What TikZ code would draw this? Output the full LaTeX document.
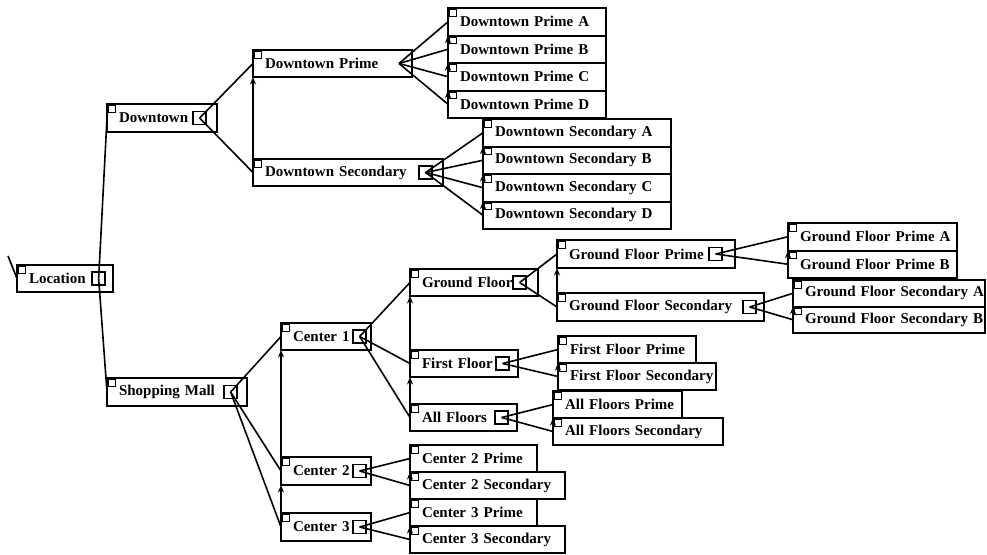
\documentclass[tikz,border=0pt]{standalone}
\usepackage{fontspec}
\setmainfont{Liberation Serif}
\usetikzlibrary{arrows.meta, positioning, calc}
\hyphenpenalty=10000
\exhyphenpenalty=10000
\tikzset{
	tbox/.style={rectangle, draw=black, line width=2pt, fill=white, anchor=north west, outer sep=0pt,
		inner xsep=12pt, inner ysep=1pt, align=left, font=\bfseries\fontsize{15}{17}\selectfont,
		path picture={
			\draw[line width=0.9pt] ([shift={(1.5pt,-1.5pt)}]path picture bounding box.north west) rectangle ++(6.5pt,-6.5pt);
			\fill ([shift={(4.7pt,-4.7pt)}]path picture bounding box.north west) circle (1.1pt);}},
	fold/.style={rectangle, draw=black, line width=1.7pt, minimum width=13pt, minimum height=13pt, inner sep=0pt},
	link/.style={line width=1.6pt},
	sib/.style={line width=1.6pt, -{Stealth[length=7.5pt, width=6pt]}},
}
\begin{document}
\begin{tikzpicture}[x=1pt, y=-1pt]
	\useasboundingbox (0,0) rectangle (987,554);
	% first levels
	\node[tbox, text width=72pt, minimum width=96, minimum height=27] (loc) at (17,265) {Location};
	\node[tbox, text width=86pt, minimum width=110, minimum height=28] (dt) at (107,104) {Downtown};
	\node[tbox, text width=116pt, minimum width=140, minimum height=28] (sm) at (107,378) {Shopping~Mall};
	\node[tbox, text width=135pt, minimum width=159, minimum height=27] (dtp) at (253,50) {Downtown~Prime};
	\node[tbox, text width=166pt, minimum width=190, minimum height=27] (dts) at (253,159) {Downtown~Secondary};
	% downtown leaves
	\node[tbox, text width=134pt, minimum width=158, minimum height=27.5] (dtpa) at (448,8) {Downtown~Prime~A};
	\node[tbox, text width=134pt, minimum width=158, minimum height=27.5] (dtpb) at (448,35.5) {Downtown~Prime~B};
	\node[tbox, text width=134pt, minimum width=158, minimum height=27.5] (dtpc) at (448,63) {Downtown~Prime~C};
	\node[tbox, text width=134pt, minimum width=158, minimum height=27.5] (dtpd) at (448,90.5) {Downtown~Prime~D};
	\node[tbox, text width=164pt, minimum width=188, minimum height=27.5] (dtsa) at (483,119) {Downtown~Secondary~A};
	\node[tbox, text width=164pt, minimum width=188, minimum height=27.5] (dtsb) at (483,146.5) {Downtown~Secondary~B};
	\node[tbox, text width=164pt, minimum width=188, minimum height=27.5] (dtsc) at (483,174) {Downtown~Secondary~C};
	\node[tbox, text width=164pt, minimum width=188, minimum height=27.5] (dtsd) at (483,201.5) {Downtown~Secondary~D};
	% centers
	\node[tbox, text width=66pt, minimum width=90, minimum height=27] (c1) at (281,323) {Center~1};
	\node[tbox, text width=66pt, minimum width=90, minimum height=28] (c2) at (281,457) {Center~2};
	\node[tbox, text width=66pt, minimum width=90, minimum height=28] (c3) at (281,513) {Center~3};
	% floors
	\node[tbox, text width=104pt, minimum width=128, minimum height=27] (gf) at (410,269) {Ground~Floor};
	\node[tbox, text width=84pt, minimum width=108, minimum height=27] (ff) at (410,350) {First~Floor};
	\node[tbox, text width=83pt, minimum width=107, minimum height=27] (af) at (410,404) {All~Floors};
	\node[tbox, text width=154pt, minimum width=178, minimum height=28] (gfp) at (557,240) {Ground~Floor~Prime};
	\node[tbox, text width=183pt, minimum width=207, minimum height=28] (gfs) at (557,293) {Ground~Floor~Secondary};
	\node[tbox, text width=145pt, minimum width=169, minimum height=27.5] (gfpa) at (788,223) {Ground~Floor~Prime~A};
	\node[tbox, text width=145pt, minimum width=169, minimum height=27.5] (gfpb) at (788,250.5) {Ground~Floor~Prime~B};
	\node[tbox, text width=168pt, minimum width=192, minimum height=26.5] (gfsa) at (793,280) {Ground~Floor~Secondary~A};
	\node[tbox, text width=168pt, minimum width=192, minimum height=26.5] (gfsb) at (793,306.5) {Ground~Floor~Secondary~B};
	\node[tbox, text width=114pt, minimum width=138, minimum height=27] (ffp) at (558,336) {First~Floor~Prime};
	\node[tbox, text width=134pt, minimum width=158, minimum height=27] (ffs) at (558,363) {First~Floor~Secondary};
	\node[tbox, text width=105pt, minimum width=129, minimum height=27] (afp) at (553,391) {All~Floors~Prime};
	\node[tbox, text width=146pt, minimum width=170, minimum height=27] (afs) at (553,418) {All~Floors~Secondary};
	% center leaves
	\node[tbox, text width=103pt, minimum width=127, minimum height=27] (c2p) at (410,445) {Center~2~Prime};
	\node[tbox, text width=131pt, minimum width=155, minimum height=27] (c2s) at (410,472) {Center~2~Secondary};
	\node[tbox, text width=103pt, minimum width=127, minimum height=27] (c3p) at (410,499) {Center~3~Prime};
	\node[tbox, text width=131pt, minimum width=155, minimum height=27] (c3s) at (410,526) {Center~3~Secondary};
	% fold markers
	\node[fold, anchor=east] (loc-m) at ([xshift=-7pt]loc.east) {};
	\node[fold, anchor=east] (dt-m) at ([xshift=-10pt]dt.east) {};
	\node[fold, anchor=east] (sm-m) at ([xshift=-9pt]sm.east) {};
	\node[fold, anchor=east] (dts-m) at ([xshift=-10pt]dts.east) {};
	\coordinate (dtp-m) at ([xshift=-13pt]dtp.east);
	\foreach \n in {c1,c2,c3} \node[fold, anchor=east] (\n-m) at ([xshift=-4pt]\n.east) {};
	\node[fold, anchor=east] (gf-m) at ([xshift=-11pt]gf.east) {};
	\node[fold, anchor=east] (ff-m) at ([xshift=-8pt]ff.east) {};
	\node[fold, anchor=east] (af-m) at ([xshift=-8pt]af.east) {};
	\node[fold, anchor=east] (gfp-m) at ([xshift=-12pt]gfp.east) {};
	\node[fold, anchor=east] (gfs-m) at ([xshift=-7pt]gfs.east) {};
	% parent to child
	\coordinate (root) at (8,256);
	\draw[link] (root) -- (loc.west);
	\foreach \p/\c in {loc/dt, loc/sm, dt/dtp, dt/dts, dtp/dtpa, dtp/dtpb, dtp/dtpc, dtp/dtpd,
			dts/dtsa, dts/dtsb, dts/dtsc, dts/dtsd, sm/c1, sm/c2, sm/c3, c1/gf, c1/ff, c1/af,
			gf/gfp, gf/gfs, gfp/gfpa, gfp/gfpb, gfs/gfsa, gfs/gfsb, ff/ffp, ff/ffs, af/afp, af/afs,
			c2/c2p, c2/c2s, c3/c3p, c3/c3s}
		\draw[link] (\p-m.center) -- (\c.west);
	% sibling links
	\foreach \lo/\up in {dts/dtp, dtpb/dtpa, dtpc/dtpb, dtpd/dtpc, dtsb/dtsa, dtsc/dtsb, dtsd/dtsc,
			c2/c1, c3/c2, ff/gf, af/ff, gfs/gfp, gfpb/gfpa, gfsb/gfsa, ffs/ffp, afs/afp, c2s/c2p, c3s/c3p}
		\draw[sib] (\lo.west) -- (\up.south west);
\end{tikzpicture}
\end{document}
